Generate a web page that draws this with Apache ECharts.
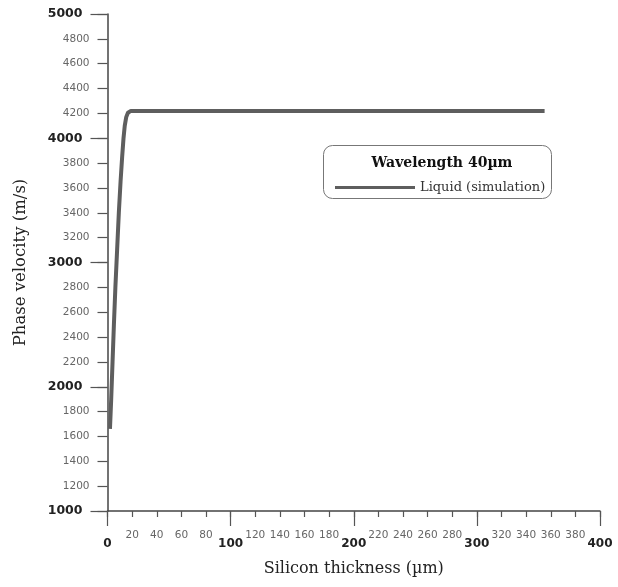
<!DOCTYPE html>
<html>
<head>
<meta charset="utf-8">
<script src="https://cdn.jsdelivr.net/npm/echarts@6/dist/echarts.min.js"></script>
<style>
html,body{margin:0;padding:0;background:#fff;}
#chart{width:618px;height:587px;}
</style>
</head>
<body>
<div id="chart"></div>
<script>
// Data
const thickness = [2.0, 3.0, 4.1, 5.2, 6.4, 7.8, 9.2, 10.6, 11.9, 13.0, 14.0, 15.2, 16.6, 19.0, 355];
const velocity  = [1661, 1900, 2200, 2500, 2800, 3100, 3400, 3650, 3850, 4000, 4100, 4170, 4205, 4220, 4220];
const seriesName = 'Liquid (simulation)';
const legendTitle = 'Wavelength 40\u00b5m';
const xTitle = 'Silicon thickness (\u00b5m)';
const yTitle = 'Phase velocity (m/s)';

const pairs = thickness.map((x, i) => [x, velocity[i]]);

const chart = echarts.init(document.getElementById('chart'));
const axisColor = '#444';
const minorLabel = {fontFamily: 'DejaVu Sans', fontSize: 10.5, color: '#666'};
const majorLabel = {fontFamily: 'DejaVu Sans', fontSize: 12.5, fontWeight: 'bold', color: '#222'};

chart.setOption({
  animation: false,
  backgroundColor: '#fff',
  grid: {left: 107.5, right: 18, top: 14, bottom: 76},
  xAxis: [
    {
      type: 'value', min: 0, max: 400, interval: 20, position: 'bottom',
      axisLine: {show: true, lineStyle: {color: axisColor, width: 1.5}},
      axisTick: {show: true, length: 6, lineStyle: {color: '#555', width: 1.2}},
      splitLine: {show: false},
      axisLabel: Object.assign({margin: 19, formatter: v => (v % 100 === 0 ? '' : String(v))}, minorLabel),
      name: xTitle, nameLocation: 'middle', nameGap: 50,
      nameTextStyle: {fontFamily: 'DejaVu Serif', fontSize: 16, color: '#222'}
    },
    {
      type: 'value', min: 0, max: 400, interval: 100, position: 'bottom',
      axisLine: {show: false},
      axisTick: {show: true, length: 15, lineStyle: {color: '#555', width: 1.2}},
      splitLine: {show: false},
      axisLabel: Object.assign({margin: 27, formatter: v => String(v)}, majorLabel, {fontSize: 12})
    }
  ],
  yAxis: [
    {
      type: 'value', min: 1000, max: 5000, interval: 200, position: 'left',
      axisLine: {show: true, lineStyle: {color: axisColor, width: 1.5}},
      axisTick: {show: true, length: 10, lineStyle: {color: '#555', width: 1.2}},
      splitLine: {show: false},
      axisLabel: Object.assign({margin: 18, formatter: v => (v % 1000 === 0 ? '' : String(v))}, minorLabel),
      name: yTitle, nameLocation: 'middle', nameGap: 78, nameRotate: 90,
      nameTextStyle: {fontFamily: 'DejaVu Serif', fontSize: 16.5, color: '#222'}
    },
    {
      type: 'value', min: 1000, max: 5000, interval: 1000, position: 'left',
      axisLine: {show: false},
      axisTick: {show: true, length: 17, lineStyle: {color: '#555', width: 1.2}},
      splitLine: {show: false},
      axisLabel: Object.assign({margin: 25, formatter: v => String(v)}, majorLabel)
    }
  ],
  legend: {
    show: true, left: 330, top: 176, orient: 'horizontal',
    icon: 'rect', itemWidth: 80, itemHeight: 3, itemGap: 3,
    data: [seriesName],
    textStyle: {fontFamily: 'DejaVu Serif', fontSize: 13, color: '#333'}
  },
  graphic: [
    {
      type: 'rect', left: 323, top: 145, z: 0,
      shape: {width: 228, height: 53, r: 9},
      style: {fill: '#fff', stroke: '#777', lineWidth: 1}
    },
    {
      type: 'text', x: 442, y: 163, z: 1,
      style: {text: legendTitle, fontFamily: 'DejaVu Serif', fontSize: 14, fontWeight: 'bold',
              fill: '#111', align: 'center', verticalAlign: 'middle'}
    }
  ],
  series: [{
    name: seriesName, type: 'line', xAxisIndex: 0, yAxisIndex: 0,
    data: pairs, showSymbol: false, smooth: false,
    lineStyle: {color: '#5e5e5e', width: 4, join: 'round'},
    itemStyle: {color: '#5e5e5e'}
  }]
});
</script>
</body>
</html>
